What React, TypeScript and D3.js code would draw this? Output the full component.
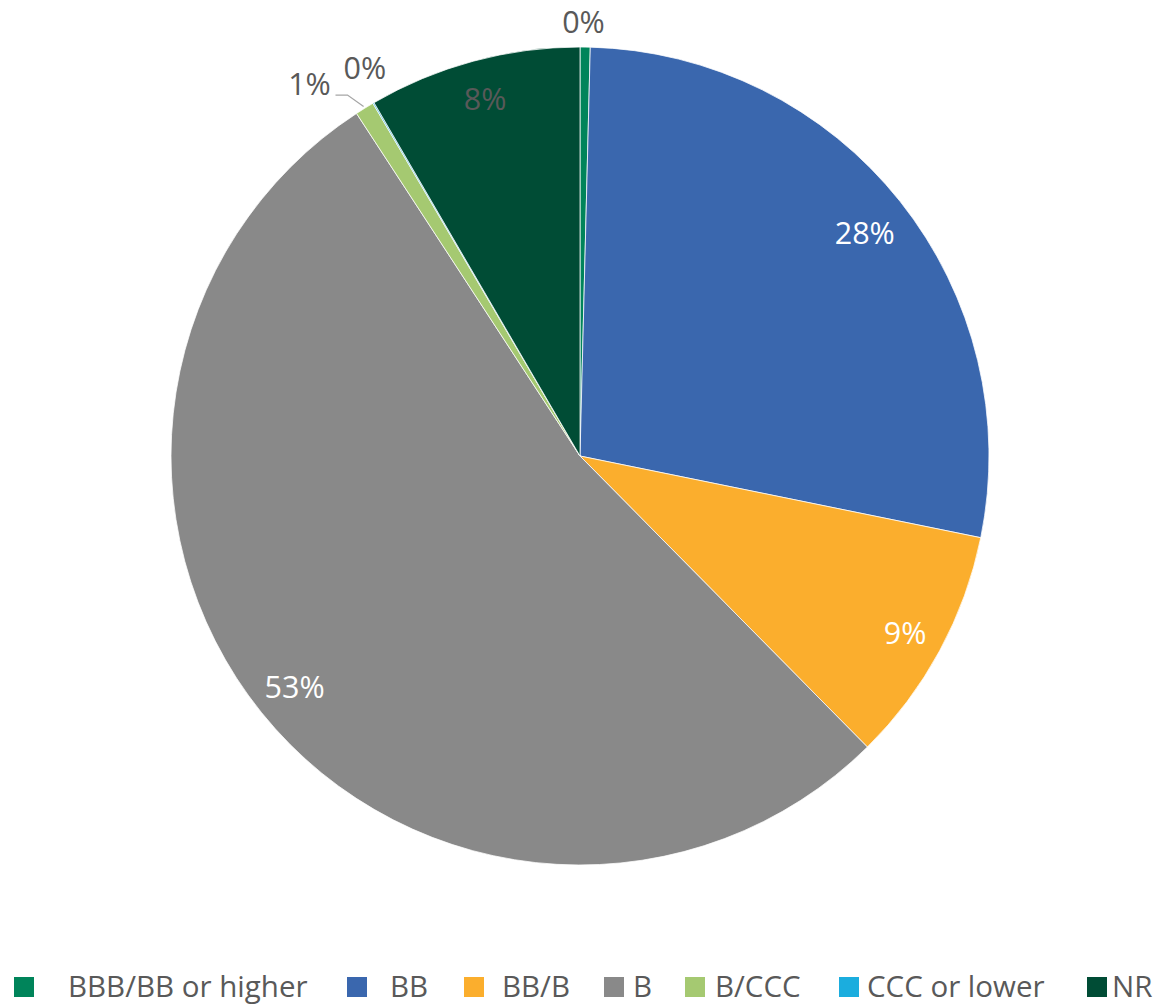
import React from "react";
import * as d3 from "d3";

const categories = ["BBB/BB or higher", "BB", "BB/B", "B", "B/CCC", "CCC or lower", "NR"];
const values = [0.4, 27.8, 9.4, 53.2, 0.75, 0.05, 8.4];
const labels = ["0%", "28%", "9%", "53%", "1%", "0%", "8%"];
const colors = ["#00845A", "#3A67AE", "#FBAE2D", "#898989", "#A5C971", "#1BADDE", "#004C35"];

// layout constants
const W = 1165, H = 1008;
const CX = 580, CY = 456, R = 409;
const insideLabel = [false, true, true, true, false, false, true];
const insideColor = ["#595959", "#FFFFFF", "#FFFFFF", "#FFFFFF", "#595959", "#595959", "#595959"];
const labelShift: [number, number][] = [[-2, -1], [0, 3], [5, 3], [-2, 2], [-42, -4], [4, -14], [0, -7]];
const legendMarkerX = [14, 347, 464, 604, 685, 839, 1087];
const legendTextX = [68, 390, 502, 633, 715, 867, 1112];

export default function App() {
  const pie = d3.pie<number>().value((d) => d).sort(null);
  const arcs = pie(values);
  const arcGen = d3.arc<d3.PieArcDatum<number>>().innerRadius(0).outerRadius(R);
  const inArc = d3.arc<d3.PieArcDatum<number>>().innerRadius(364).outerRadius(364);
  const outArc = d3.arc<d3.PieArcDatum<number>>().innerRadius(434).outerRadius(434);
  const edgeArc = d3.arc<d3.PieArcDatum<number>>().innerRadius(R + 2).outerRadius(R + 2);

  const labelPos = arcs.map((a, i) => {
    const [x, y] = (insideLabel[i] ? inArc : outArc).centroid(a);
    return [x + labelShift[i][0], y + labelShift[i][1]];
  });

  return (
    <svg width={W} height={H} style={{ position: "absolute", left: 0, top: 0, background: "#fff" }}
      fontFamily="'Open Sans', 'Noto Sans', sans-serif">
      <g transform={`translate(${CX},${CY})`}>
        {arcs.map((a, i) => (
          <path key={i} d={arcGen(a) || ""} fill={colors[i]} stroke="#fff" strokeWidth={0.75} />
        ))}
        {(() => {
          const [ex, ey] = edgeArc.centroid(arcs[4]);
          const tx = labelPos[4][0] + 26;
          const ty = labelPos[4][1] + 12;
          return <polyline points={`${tx},${ty} ${tx + 12},${ty} ${ex},${ey}`} fill="none" stroke="#A6A6A6" strokeWidth={1.3} />;
        })()}
        {arcs.map((a, i) => (
          <text key={"l" + i} x={labelPos[i][0]} y={labelPos[i][1]} textAnchor="middle" dominantBaseline="central"
            fontSize={30.5} fill={insideLabel[i] ? insideColor[i] : "#595959"}>{labels[i]}</text>
        ))}
      </g>
      <g>
        {categories.map((c, i) => (
          <g key={"lg" + i}>
            <rect x={legendMarkerX[i]} y={977} width={20} height={20} fill={colors[i]} />
            <text x={legendTextX[i]} y={997} fontSize={29.5} fill="#595959">{c}</text>
          </g>
        ))}
      </g>
    </svg>
  );
}
